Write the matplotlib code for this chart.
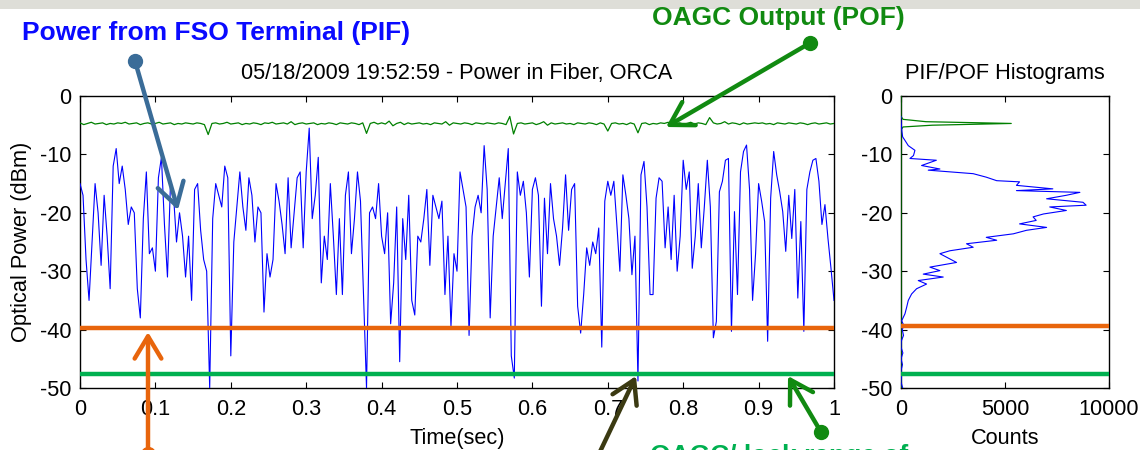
import numpy as np
import matplotlib
matplotlib.use("Agg")
import matplotlib.pyplot as plt
from matplotlib.patches import FancyArrowPatch, Rectangle
from matplotlib.lines import Line2D
from matplotlib.ticker import FuncFormatter

plt.rcParams['font.family'] = ['Liberation Sans', 'DejaVu Sans']
plt.rcParams['axes.unicode_minus'] = False

# ---------------- data ----------------
# Power in fiber from FSO terminal (PIF), dBm, 251 samples over 1 s
pif_dbm = [
    -15, -17, -28, -35, -25, -15, -20, -29, -17, -24, -33, -12, -9, -15, -12, -16, -22, -19, -20, -33, -38, -21, -13, -27, -26,
    -30, -14, -10.5, -22, -31, -15, -17, -25, -20, -24, -31, -24, -35, -16, -15, -23, -28, -30, -50, -21, -15, -17, -19, -12, -14,
    -44.5, -25, -19, -13, -19, -23, -14, -17, -25, -19, -20, -37, -27, -31, -28, -15, -18, -22, -27, -14, -26, -20, -14, -13, -26,
    -13, -5.5, -21, -17, -10.5, -32, -24, -28, -15, -24, -34, -21, -34, -17, -13, -27, -21, -13, -18, -34, -50, -20, -19, -21, -15,
    -24, -27, -20, -39, -32, -19, -45.5, -21, -28, -17, -35, -37.5, -24, -25, -21, -16, -29, -17, -19, -21, -18, -34, -24, -39.5, -27,
    -30, -13, -16, -19, -41, -24, -19, -17, -20, -8.5, -16, -38, -24, -19, -14, -21, -15, -9, -44.5, -48.3, -13, -17, -14.6, -20, -31,
    -16, -14, -17, -36, -17.5, -27, -15, -21, -24, -29, -22.6, -13.5, -23, -16, -15, -36, -40.6, -34, -26, -29, -25, -27, -22.6, -43, -18,
    -14.6, -17, -14.6, -22, -30, -13.5, -17, -21, -30.6, -24, -48.8, -13.5, -11.2, -19, -34, -34, -17.5, -14, -14.6, -26, -19, -28, -17, -30, -24,
    -11, -16, -13, -29.5, -24, -15, -26, -19, -11, -19, -41.4, -38.6, -16.4, -14.6, -11, -10.7, -40.3, -19.8, -34, -13, -9.5, -8.4, -16, -35, -27,
    -15, -18, -21.5, -42, -17.5, -9.5, -13.5, -16.4, -19.8, -26.6, -17, -24.4, -16, -34.6, -21.5, -40.3, -16, -13, -11, -10.7, -14.6, -22, -18.6, -24.4, -29.5,
    -35,
]

# OAGC output power in fiber (POF), dBm, 201 samples over 1 s
pof_dbm = [
    -4.6, -4.9, -4.7, -4.5, -4.8, -4.7, -4.6, -4.9, -4.7, -4.8,
    -4.6, -4.7, -4.5, -4.8, -4.7, -4.6, -4.9, -4.7, -4.6, -4.8,
    -4.7, -4.5, -4.8, -4.7, -4.6, -4.9, -4.7, -4.8, -4.6, -4.7,
    -4.8, -4.6, -4.7, -4.9, -6.6, -4.7, -4.6, -4.8, -4.7, -4.5,
    -4.8, -4.7, -4.6, -4.9, -4.7, -4.8, -4.6, -4.7, -4.9, -4.6,
    -4.7, -4.5, -4.8, -4.7, -4.6, -4.8, -4.4, -4.9, -4.7, -4.6,
    -4.8, -4.7, -4.6, -4.9, -4.7, -4.8, -4.6, -4.7, -4.9, -4.6,
    -4.7, -4.8, -4.6, -4.7, -4.9, -4.6, -6.4, -4.7, -4.5, -4.8,
    -4.6, -4.8, -4.3, -5.1, -4.7, -4.5, -4.9, -4.6, -4.8, -4.7,
    -4.6, -4.8, -4.7, -4.9, -4.6, -4.7, -4.8, -4.4, -5.0, -4.6,
    -4.7, -4.8, -4.6, -4.7, -4.9, -4.6, -4.7, -4.8, -4.6, -4.7,
    -4.8, -4.6, -4.7, -4.9, -3.5, -6.5, -4.7, -4.6, -4.8, -4.7,
    -4.6, -4.9, -4.7, -4.4, -5.0, -4.6, -4.8, -4.7, -4.6, -4.8,
    -4.7, -4.9, -4.6, -4.7, -4.8, -4.6, -4.7, -4.9, -4.6, -4.8,
    -6.0, -4.7, -4.6, -4.8, -4.7, -4.9, -4.6, -4.8, -6.3, -4.7,
    -4.6, -4.9, -4.7, -4.8, -4.6, -4.7, -4.5, -4.8, -4.7, -4.6,
    -4.8, -4.7, -4.5, -4.8, -4.6, -4.7, -4.9, -3.7, -4.6, -4.8,
    -4.7, -4.4, -4.8, -4.6, -4.7, -4.9, -4.6, -4.8, -4.7, -4.6,
    -4.7, -4.6, -4.8, -4.7, -4.9, -4.6, -4.7, -4.8, -4.6, -4.7,
    -4.8, -4.6, -4.7, -4.9, -4.7, -4.6, -4.8, -4.7, -4.6, -4.8,
    -4.7,
]

threshold_orange = -39.7   # upper threshold line
threshold_green = -47.6    # OAGC lower limit line

# histogram of PIF (power bin, counts)
pif_hist_dbm = [-3.5, -4.2, -5, -6, -7, -7.6, -8.5, -9.3, -10.2, -10.7, -11, -11.9, -12.5, -12.7, -13.3, -13.9,
                -14.5, -14.7, -15.3, -15.9, -16.2, -16.5, -17, -17.6, -18.2, -18.7, -19, -19.6, -20.2, -20.7,
                -21.3, -21.9, -22.5, -23, -23.6, -24.2, -24.7, -25.3, -25.9, -26.5, -27, -27.6, -28.5, -29.3,
                -29.9, -30.5, -31, -31.6, -32.2, -33, -33.9, -35, -36.2, -37.3, -38.5, -39.3, -40, -41, -42,
                -43, -44, -45, -46, -47, -48, -49, -50]
pif_hist_counts = [0, 0, 20, 40, 80, 190, 350, 670, 600, 430, 1700, 990, 1870, 1310, 3470, 4100,
                   4600, 5700, 5550, 7300, 5550, 8600, 7950, 7000, 8750, 8900, 7150, 7950, 6850, 6350,
                   6500, 5700, 7000, 6030, 5400, 4100, 4600, 3150, 3470, 2350, 1870, 2190, 2670, 1390,
                   1870, 1070, 2030, 830, 1230, 750, 510, 350, 270, 190, 30, 140, 60, 120, 10,
                   0, 90, 0, 70, 0, 20, 0, 80]

# histogram of POF
pof_hist_dbm = [0, -3.5, -4.0, -4.4, -4.7, -5.0, -5.3, -5.8, -50]
pof_hist_counts = [0, 0, 100, 1200, 5300, 1500, 100, 0, 0]

x_ticks = [0, 0.1, 0.2, 0.3, 0.4, 0.5, 0.6, 0.7, 0.8, 0.9, 1]
y_ticks = [-50, -40, -30, -20, -10, 0]
hist_x_ticks = [0, 5000, 10000]

title_main = "05/18/2009 19:52:59 - Power in Fiber, ORCA"
title_hist = "PIF/POF Histograms"

# ---------------- styles ----------------
W, H = 1140, 450
FS = 15.7
C_PIF = "#0000ff"
C_POF = "#008000"
C_ORANGE = "#e8650c"
C_GREEN = "#00b050"

fig = plt.figure(figsize=(W / 100, H / 100), dpi=100)


def fx(px):
    return px / W


def fy(py):
    return 1 - py / H


def style_axes(ax):
    ax.tick_params(direction='in', top=True, right=True, length=4, width=0.8,
                   labelsize=FS)
    ax.tick_params(axis='x', pad=8)
    ax.tick_params(axis='y', pad=6)
    for s in ax.spines.values():
        s.set_linewidth(1.0)
        s.set_color('black')


# main axes
ax = fig.add_axes([fx(80), fy(388), fx(834) - fx(80), fy(96) - fy(388)])
t_pif = np.linspace(0, 1, len(pif_dbm))
t_pof = np.linspace(0, 1, len(pof_dbm))
ax.plot(t_pof, pof_dbm, color=C_POF, lw=0.9, zorder=3)
ax.plot(t_pif, pif_dbm, color=C_PIF, lw=0.8, zorder=3)
ax.axhline(threshold_orange, color=C_ORANGE, lw=3.2, zorder=4)
ax.axhline(threshold_green, color=C_GREEN, lw=3.2, zorder=4)
ax.set_xlim(0, 1)
ax.set_ylim(-50, 0)
ax.set_xticks(x_ticks)
ax.set_yticks(y_ticks)
ax.xaxis.set_major_formatter(FuncFormatter(lambda v, p: ('%g' % v)))
style_axes(ax)
ax.set_xlabel("Time(sec)", fontsize=FS, labelpad=6)
ax.set_ylabel("Optical Power (dBm)", fontsize=FS, labelpad=6)
ax.set_title(title_main, fontsize=FS, pad=12)

# histogram axes
axh = fig.add_axes([fx(901), fy(388), fx(1109) - fx(901), fy(96) - fy(388)])
axh.plot(pof_hist_counts, pof_hist_dbm, color=C_POF, lw=0.9, zorder=3)
axh.plot(pif_hist_counts, pif_hist_dbm, color=C_PIF, lw=0.8, zorder=3)
axh.axhline(threshold_orange + 0.3, color=C_ORANGE, lw=3.2, zorder=4)
axh.axhline(threshold_green, color=C_GREEN, lw=3.2, zorder=4)
axh.set_xlim(0, 10000)
axh.set_ylim(-50, 0)
axh.set_xticks(hist_x_ticks)
axh.set_yticks(y_ticks)
style_axes(axh)
axh.set_xlabel("Counts", fontsize=FS, labelpad=6)
axh.set_title(title_hist, fontsize=FS, pad=12)

# slide header band
fig.patches.append(Rectangle((0, fy(9)), 1, 1 - fy(9), transform=fig.transFigure,
                             facecolor="#deded8", edgecolor='none', zorder=0))

# annotations (slide callouts)
fig.text(fx(22), fy(33), "Power from FSO Terminal (PIF)", color="#0a0aff",
         fontsize=19, fontweight='bold', va='center', ha='left')
fig.text(fx(652), fy(18), "OAGC Output (POF)", color="#118a11",
         fontsize=19, fontweight='bold', va='center', ha='left')
fig.text(fx(650), fy(463), "OAGC/ lock range of", color=C_GREEN,
         fontsize=19, fontweight='bold', va='baseline', ha='left')


def callout(x0, y0, x1, y1, color, dot=True, dot_y=None):
    arr = FancyArrowPatch((fx(x0), fy(y0)), (fx(x1), fy(y1)), transform=fig.transFigure,
                          arrowstyle='->,head_length=5,head_width=3', color=color,
                          lw=3.2, mutation_scale=3.2, zorder=10, shrinkA=0, shrinkB=0,
                          capstyle='round', joinstyle='round')
    fig.patches.append(arr)
    if dot:
        yy = y0 if dot_y is None else dot_y
        fig.lines.append(Line2D([fx(x0)], [fy(yy)], transform=fig.transFigure, marker='o',
                                markersize=10, color=color, zorder=11))


callout(135, 61, 178, 210, "#3a6c98")
callout(810, 43, 666, 127, "#118a11")
callout(148, 458, 148, 332, C_ORANGE, dot_y=454)
callout(597, 458, 636, 376, "#3b3a12", dot=False)
callout(821, 432, 788, 376, "#118a11")

fig.savefig("out.png", dpi=100)
